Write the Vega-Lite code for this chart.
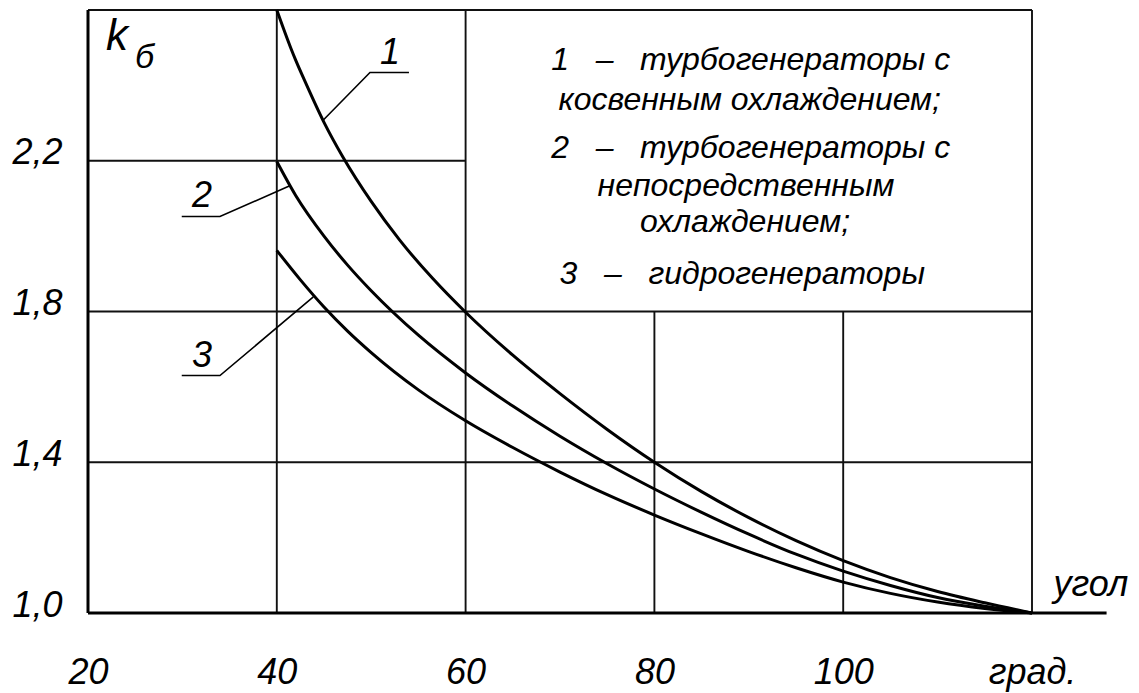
{
  "$schema": "https://vega.github.io/schema/vega-lite/v6.json",
  "description": "k_б versus angle for turbogenerators and hydrogenerators",
  "width": 944,
  "height": 603,
  "autosize": {"type": "none"},
  "padding": {"left": 88, "top": 10, "right": 107, "bottom": 80},
  "background": "white",
  "encoding": {
    "x": {
      "field": "x",
      "type": "quantitative",
      "scale": {"domain": [20, 120], "nice": false, "zero": false},
      "axis": {
        "values": [20, 40, 60, 80, 100, 120],
        "labelExpr": "datum.value == 120 ? '\u00a0\u00a0\u00a0\u00a0град.' : datum.label",
        "grid": false,
        "domain": false,
        "ticks": false,
        "labelFont": "Liberation Sans",
        "labelFontStyle": "italic",
        "labelFontSize": 36,
        "labelColor": "black",
        "labelPadding": 42,
        "labelFlush": false,
        "labelOverlap": false,
        "title": "угол",
        "titleFont": "Liberation Sans",
        "titleFontStyle": "italic",
        "titleFontWeight": "normal",
        "titleFontSize": 36,
        "titleColor": "black",
        "titleX": 965,
        "titleY": -18,
        "titleAlign": "left",
        "titleBaseline": "alphabetic"
      }
    },
    "y": {
      "field": "y",
      "type": "quantitative",
      "scale": {"domain": [1.0, 2.6], "nice": false, "zero": false},
      "axis": {
        "values": [1.0, 1.4, 1.8, 2.2],
        "labelExpr": "replace(format(datum.value, '.1f'), '.', ',')",
        "grid": false,
        "domain": false,
        "ticks": false,
        "labelFont": "Liberation Sans",
        "labelFontStyle": "italic",
        "labelFontSize": 36,
        "labelColor": "black",
        "labelPadding": 26,
        "labelOffset": -8,
        "labelFlush": false,
        "labelOverlap": false,
        "title": null
      }
    }
  },
  "layer": [
    {
      "data": {
        "values": [
          {"x": 40, "x2": 40, "y": 1.0, "y2": 2.6},
          {"x": 60, "x2": 60, "y": 1.0, "y2": 2.6},
          {"x": 80, "x2": 80, "y": 1.0, "y2": 1.8},
          {"x": 100, "x2": 100, "y": 1.0, "y2": 1.8},
          {"x": 120, "x2": 120, "y": 1.0, "y2": 2.6},
          {"x": 20, "x2": 120, "y": 2.6, "y2": 2.6},
          {"x": 20, "x2": 60, "y": 2.2, "y2": 2.2},
          {"x": 20, "x2": 120, "y": 1.8, "y2": 1.8},
          {"x": 20, "x2": 120, "y": 1.4, "y2": 1.4}
        ]
      },
      "mark": {"type": "rule", "color": "#111", "strokeWidth": 1.9},
      "encoding": {"x2": {"field": "x2"}, "y2": {"field": "y2"}}
    },
    {
      "data": {
        "values": [
          {"x": 20, "x2": 20, "y": 1.0, "y2": 2.6},
          {"x": 20, "x2": 127.9, "y": 1.0, "y2": 1.0}
        ]
      },
      "mark": {"type": "rule", "color": "black", "strokeWidth": 3},
      "encoding": {"x2": {"field": "x2"}, "y2": {"field": "y2"}}
    },
    {
      "data": {
        "values": [
          {"series": "1", "x": 40, "y": 2.6},
          {"series": "1", "x": 41.5, "y": 2.498},
          {"series": "1", "x": 42, "y": 2.467},
          {"series": "1", "x": 43, "y": 2.41},
          {"series": "1", "x": 45, "y": 2.302},
          {"series": "1", "x": 47, "y": 2.21},
          {"series": "1", "x": 50, "y": 2.092},
          {"series": "1", "x": 53, "y": 1.99},
          {"series": "1", "x": 56.5, "y": 1.888},
          {"series": "1", "x": 60, "y": 1.798},
          {"series": "1", "x": 65, "y": 1.684},
          {"series": "1", "x": 70, "y": 1.582},
          {"series": "1", "x": 75, "y": 1.487},
          {"series": "1", "x": 80, "y": 1.4},
          {"series": "1", "x": 85, "y": 1.322},
          {"series": "1", "x": 90, "y": 1.253},
          {"series": "1", "x": 95, "y": 1.192},
          {"series": "1", "x": 100, "y": 1.139},
          {"series": "1", "x": 105, "y": 1.094},
          {"series": "1", "x": 110, "y": 1.057},
          {"series": "1", "x": 115, "y": 1.027},
          {"series": "1", "x": 120, "y": 1.0},
          {"series": "2", "x": 40, "y": 2.198},
          {"series": "2", "x": 42, "y": 2.108},
          {"series": "2", "x": 45, "y": 2.0},
          {"series": "2", "x": 47.5, "y": 1.923},
          {"series": "2", "x": 50, "y": 1.855},
          {"series": "2", "x": 55, "y": 1.737},
          {"series": "2", "x": 60, "y": 1.637},
          {"series": "2", "x": 65, "y": 1.549},
          {"series": "2", "x": 70, "y": 1.469},
          {"series": "2", "x": 75, "y": 1.396},
          {"series": "2", "x": 80, "y": 1.329},
          {"series": "2", "x": 85, "y": 1.267},
          {"series": "2", "x": 90, "y": 1.209},
          {"series": "2", "x": 95, "y": 1.156},
          {"series": "2", "x": 100, "y": 1.111},
          {"series": "2", "x": 105, "y": 1.073},
          {"series": "2", "x": 110, "y": 1.041},
          {"series": "2", "x": 115, "y": 1.018},
          {"series": "2", "x": 120, "y": 1.0},
          {"series": "3", "x": 40, "y": 1.962},
          {"series": "3", "x": 42.5, "y": 1.884},
          {"series": "3", "x": 45, "y": 1.812},
          {"series": "3", "x": 47.5, "y": 1.748},
          {"series": "3", "x": 50, "y": 1.691},
          {"series": "3", "x": 55, "y": 1.592},
          {"series": "3", "x": 60, "y": 1.51},
          {"series": "3", "x": 65, "y": 1.439},
          {"series": "3", "x": 70, "y": 1.374},
          {"series": "3", "x": 75, "y": 1.314},
          {"series": "3", "x": 80, "y": 1.26},
          {"series": "3", "x": 85, "y": 1.21},
          {"series": "3", "x": 90, "y": 1.163},
          {"series": "3", "x": 95, "y": 1.12},
          {"series": "3", "x": 100, "y": 1.082},
          {"series": "3", "x": 105, "y": 1.052},
          {"series": "3", "x": 110, "y": 1.029},
          {"series": "3", "x": 115, "y": 1.012},
          {"series": "3", "x": 120, "y": 1.0}
        ]
      },
      "mark": {"type": "line", "color": "black", "strokeWidth": 3, "interpolate": "monotone"},
      "encoding": {"detail": {"field": "series"}}
    },
    {
      "data": {
        "values": [
          {"series": "1", "x": 54.0, "y": 2.434},
          {"series": "1", "x": 49.87, "y": 2.434},
          {"series": "1", "x": 44.93, "y": 2.308},
          {"series": "2", "x": 29.93, "y": 2.052},
          {"series": "2", "x": 33.98, "y": 2.052},
          {"series": "2", "x": 41.32, "y": 2.133},
          {"series": "3", "x": 29.93, "y": 1.63},
          {"series": "3", "x": 33.98, "y": 1.63},
          {"series": "3", "x": 43.87, "y": 1.839}
        ]
      },
      "mark": {"type": "line", "color": "black", "strokeWidth": 1.6},
      "encoding": {"detail": {"field": "series"}}
    },
    {
      "data": {
        "values": [
          {"label": "1", "x": 52.0, "y": 2.486},
          {"label": "2", "x": 32.08, "y": 2.106},
          {"label": "3", "x": 32.08, "y": 1.682}
        ]
      },
      "mark": {"type": "text", "font": "Liberation Sans", "fontStyle": "italic", "fontSize": 36, "color": "black", "align": "center", "baseline": "middle"},
      "encoding": {"text": {"field": "label"}}
    },
    {
      "data": {
        "values": [
          {"label": "1\u00a0\u00a0\u00a0–\u00a0\u00a0\u00a0турбогенераторы с", "x": 90.2, "y": 2.467},
          {"label": "косвенным охлаждением;", "x": 90.1, "y": 2.361},
          {"label": "2\u00a0\u00a0\u00a0–\u00a0\u00a0\u00a0турбогенераторы с", "x": 90.2, "y": 2.234},
          {"label": "непосредственным", "x": 89.7, "y": 2.133},
          {"label": "охлаждением;", "x": 89.6, "y": 2.037},
          {"label": "3\u00a0\u00a0\u00a0–\u00a0\u00a0\u00a0гидрогенераторы", "x": 89.3, "y": 1.899}
        ]
      },
      "mark": {"type": "text", "font": "Liberation Sans", "fontStyle": "italic", "fontSize": 32, "color": "black", "align": "center", "baseline": "middle"},
      "encoding": {"text": {"field": "label"}}
    },
    {
      "data": {
        "values": [
          {"label": "k", "size": "big", "x": 21.9, "y": 2.494},
          {"label": "б", "size": "small", "x": 24.98, "y": 2.446}
        ]
      },
      "mark": {"type": "text", "font": "Liberation Sans", "fontStyle": "italic", "color": "black", "align": "left", "baseline": "alphabetic"},
      "encoding": {
        "text": {"field": "label"},
        "size": {"field": "size", "type": "nominal", "scale": {"domain": ["big", "small"], "range": [44, 34]}, "legend": null}
      }
    }
  ],
  "config": {"view": {"stroke": null}, "font": "Liberation Sans"}
}
